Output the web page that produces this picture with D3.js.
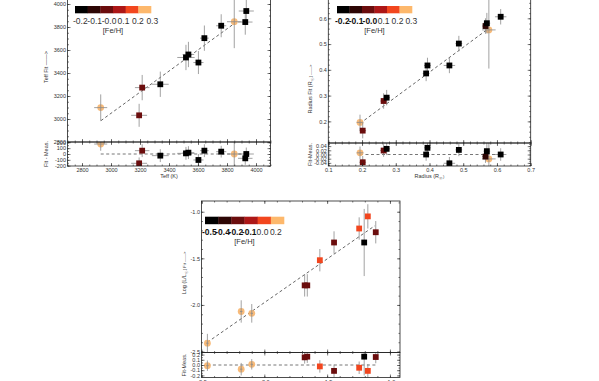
<!DOCTYPE html>
<html>
<head>
<meta charset="utf-8">
<script src="https://cdn.jsdelivr.net/npm/d3@7"></script>
<style>
  body { margin: 0; background: #fff; }
  svg { display: block; font-family: "Liberation Sans", Arial, sans-serif; }
</style>
</head>
<body>
<svg id="chart" width="599" height="381"></svg>
<script>
// colour bar shared by the three panels
const barColors = ["#000000", "#2d0605", "#6b0d0d", "#ad1717", "#f2461e", "#fdb86c"]

// --- Teff panel ---
const teffFeh = [-0.2, -0.1, 0.0, 0.1, 0.2, 0.3]
const teffFehLabels = ["-0.2", "-0.1", "-0.0", "0.1", "0.2", "0.3"]
const teffMeas = [2929, 3194, 3215, 3340, 3517, 3534, 3603, 3644, 3760, 3850, 3926, 3933]
const teffFit = [3099, 3032, 3273, 3302, 3535, 3561, 3491, 3703, 3811, 3846, 3843, 3939]
const teffRes = [170, -159, 57, -28, 11, 23, -102, 57, 40, 0, -74, 0]
const teffMeasErr = [45, 55, 50, 58, 60, 40, 35, 30, 35, 50, 50, 52]
const teffFitErr = [115, 100, 110, 110, 110, 110, 100, 110, 100, 230, 110, 110]
const teffStar = [0.3, 0.0, 0.0, -0.2, -0.2, -0.2, -0.2, -0.2, -0.2, 0.3, -0.2, -0.2]
const teffLineX = [2930, 3850]
const teffLineY = [2985, 3830]
const teffXTicks = [2800, 3000, 3200, 3400, 3600, 3800, 4000]
const teffXLabels = ["2800", "3000", "3200", "3400", "3600", "3800", "4000"]
const teffYTicks = [2800, 3000, 3200, 3400, 3600, 3800, 4000, 4200]
const teffYLabels = ["2800", "3000", "3200", "3400", "3600", "3800", "4000", "4200"]
const teffRTicks = [-200, -100, 0, 100, 200]
const teffRLabels = ["-200", "-100", "0", "100", "200"]

// --- Radius panel ---
const radFeh = [-0.2, -0.1, 0.0, 0.1, 0.2, 0.3]
const radFehLabels = ["-0.2", "-0.1", "-0.0", "0.1", "0.2", "0.3"]
const radMeas = [0.194, 0.202, 0.264, 0.273, 0.390, 0.394, 0.459, 0.487, 0.566, 0.570, 0.576, 0.611]
const radFit = [0.196, 0.164, 0.279, 0.292, 0.386, 0.417, 0.417, 0.502, 0.570, 0.581, 0.555, 0.606]
const radRes = [0.008, -0.037, 0.019, 0.027, 0.0, 0.032, -0.042, 0.022, -0.010, 0.016, -0.021, 0.0]
const radMeasErr = [0.01, 0.01, 0.01, 0.01, 0.01, 0.01, 0.017, 0.01, 0.01, 0.01, 0.02, 0.017]
const radFitErr = [0.03, 0.03, 0.03, 0.03, 0.03, 0.03, 0.03, 0.03, 0.03, 0.04, 0.15, 0.03]
const radStar = [0.3, 0.0, 0.0, -0.2, -0.2, -0.2, -0.2, -0.2, -0.1, -0.2, 0.3, -0.2]
const radLineX = [0.194, 0.576]
const radLineY = [0.192, 0.561]
const radXTicks = [0.1, 0.2, 0.3, 0.4, 0.5, 0.6, 0.7]
const radXLabels = ["0.1", "0.2", "0.3", "0.4", "0.5", "0.6", "0.7"]
const radYTicks = [0.2, 0.3, 0.4, 0.5, 0.6, 0.7]
const radYLabels = ["0.2", "0.3", "0.4", "0.5", "0.6", "0.7"]
const radRTicks = [-0.04, -0.02, 0, 0.02, 0.04]
const radRLabels = ["-0.04", "-0.02", "0.00", "0.02", "0.04"]

// --- Luminosity panel ---
const lumFeh = [-0.5, -0.4, -0.2, -0.1, 0.0, 0.2]
const lumFehLabels = ["-0.5", "-0.4", "-0.2", "-0.1", "0.0", "0.2"]
const lumMeas = [-2.453, -2.184, -2.10, -1.679, -1.658, -1.558, -1.445, -1.245, -1.205, -1.176, -1.113]
const lumFit = [-2.41, -2.07, -2.09, -1.79, -1.79, -1.52, -1.33, -1.18, -1.33, -1.05, -1.22]
const lumRes = [-0.013, -0.08, 0.013, 0.147, 0.16, -0.027, -0.113, -0.053, 0.16, -0.113, 0.153]
const lumMeasErr = [0.01, 0.01, 0.01, 0.01, 0.01, 0.01, 0.01, 0.01, 0.01, 0.01, 0.01]
const lumFitErr = [0.1, 0.12, 0.1, 0.12, 0.12, 0.12, 0.12, 0.12, 0.36, 0.13, 0.12]
const lumStar = [0.2, 0.2, 0.2, -0.2, -0.2, 0.0, -0.2, 0.0, -0.5, 0.0, -0.2]
const lumLineX = [-2.453, -1.12]
const lumLineY = [-2.40, -1.15]
const lumXTicks = [-2.5, -2.0, -1.5, -1.0]
const lumXLabels = ["-2.5", "-2.0", "-1.5", "-1.0"]
const lumYTicks = [-2.5, -2.0, -1.5, -1.0]
const lumYLabels = ["-2.5", "-2.0", "-1.5", "-1.0"]
const lumRTicks = [-0.2, -0.1, 0, 0.1, 0.2]
const lumRLabels = ["-0.2", "-0.1", "0.0", "0.1", "0.2"]

const svg = d3.select("#chart")
const defs = svg.append("defs")

function tickSet(g, side, scale, vals, len, labels, pos) {
  let axis = {left: d3.axisLeft, right: d3.axisRight, top: d3.axisTop, bottom: d3.axisBottom}[side]
  let vertical = side === "left" || side === "right"
  g.append("g")
    .attr("transform", vertical ? "translate(" + pos + ",0)" : "translate(0," + pos + ")")
    .call(axis(scale).tickValues(vals).tickSize(-len).tickPadding(vertical ? 1.5 : 2.5)
      .tickFormat(labels ? (d, i) => labels[i] : () => ""))
    .call(a => a.select(".domain").remove())
    .call(a => a.selectAll("line").attr("stroke", "#222").attr("stroke-width", 0.6))
    .call(a => a.selectAll("text").attr("font-size", 5.5).attr("fill", "#333")
      .attr("font-family", "Liberation Sans, Arial, sans-serif"))
}

function minorVals(domain, step) {
  let lo = Math.min(domain[0], domain[1]), hi = Math.max(domain[0], domain[1])
  return d3.range(Math.ceil(lo / step - 1e-6) * step, hi + 1e-9, step)
}

function drawPanel(c) {
  let g = svg.append("g")
  let x = d3.scaleLinear(c.xDomain, [c.left, c.right])
  let y = d3.scaleLinear(c.yDomain, [c.mid, c.top])
  let yr = d3.scaleLinear(c.rDomain, [c.bottom, c.mid])
  let color = d3.scaleThreshold(d3.pairs(c.feh, (a, b) => (a + b) / 2), barColors)
  let w = c.right - c.left

  defs.append("clipPath").attr("id", c.id + "m")
    .append("rect").attr("x", c.left).attr("y", c.top).attr("width", w).attr("height", c.mid - c.top)
  defs.append("clipPath").attr("id", c.id + "r")
    .append("rect").attr("x", c.left).attr("y", c.mid).attr("width", w).attr("height", c.bottom - c.mid)

  let pts = c.meas.map((m, i) => ({
    m: m, f: c.fit[i], r: c.res[i], ex: c.mErr[i], ey: c.fErr[i], col: color(c.star[i])
  }))
  let isLight = d => d.col === barColors[barColors.length - 1]

  // main panel
  let main = g.append("g").attr("clip-path", "url(#" + c.id + "m)")
  main.append("path")
    .attr("d", d3.line()(c.lineX.map((v, i) => [x(v), y(c.lineY[i])])))
    .attr("stroke", "#666").attr("stroke-width", 1).attr("stroke-dasharray", "3,2.5").attr("fill", "none")
  drawMarks(main, pts, x, y, "f", isLight)

  // residual panel
  let res = g.append("g").attr("clip-path", "url(#" + c.id + "r)")
  let ext = d3.extent(c.meas)
  res.append("line")
    .attr("x1", x(ext[0])).attr("x2", x(ext[1])).attr("y1", yr(0)).attr("y2", yr(0))
    .attr("stroke", "#777").attr("stroke-width", 1).attr("stroke-dasharray", "3,2.5")
  drawMarks(res, pts, x, yr, "r", isLight)

  // frames
  g.append("rect").attr("x", c.left).attr("y", c.top).attr("width", w).attr("height", c.mid - c.top)
    .attr("fill", "none").attr("stroke", "#222").attr("stroke-width", 0.8)
  g.append("rect").attr("x", c.left).attr("y", c.mid).attr("width", w).attr("height", c.bottom - c.mid)
    .attr("fill", "none").attr("stroke", "#222").attr("stroke-width", 0.8)

  // ticks, main (labels only where they fall inside the picture)
  let xm = minorVals(c.xDomain, c.xMinor)
  let ym = minorVals(c.yDomain, c.yMinor)
  let rm = minorVals(c.rDomain, c.rMinor)
  let shown = c.yTicks.map((v, i) => i).filter(i => y(c.yTicks[i]) <= c.mid + 0.5 && y(c.yTicks[i]) >= 3)
  tickSet(g, "left", y, shown.map(i => c.yTicks[i]), 3, shown.map(i => c.yLabels[i]), c.left)
  tickSet(g, "left", y, ym, 1.5, null, c.left)
  tickSet(g, "right", y, c.yTicks, 3, null, c.right)
  tickSet(g, "right", y, ym, 1.5, null, c.right)
  tickSet(g, "top", x, c.xTicks, 3, null, c.top)
  tickSet(g, "top", x, xm, 1.5, null, c.top)
  tickSet(g, "bottom", x, c.xTicks, 3, null, c.mid)
  tickSet(g, "bottom", x, xm, 1.5, null, c.mid)

  // ticks, residual
  tickSet(g, "left", yr, c.rTicks, 3, c.rLabels, c.left)
  tickSet(g, "left", yr, rm, 1.5, null, c.left)
  tickSet(g, "right", yr, c.rTicks, 3, null, c.right)
  tickSet(g, "right", yr, rm, 1.5, null, c.right)
  tickSet(g, "top", x, c.xTicks, 3, null, c.mid)
  tickSet(g, "top", x, xm, 1.5, null, c.mid)
  tickSet(g, "bottom", x, c.xTicks, 3, c.xLabels, c.bottom)
  tickSet(g, "bottom", x, xm, 1.5, null, c.bottom)

  // axis titles
  let yt = g.append("text").attr("transform", "translate(" + c.yTitleX + "," + c.yTitleY + ") rotate(-90)")
    .attr("text-anchor", "middle").attr("font-size", 5.5).attr("fill", "#333")
  c.yTitle.forEach(p => yt.append("tspan").text(p[0]).attr("font-size", p[1] ? 4 : null)
    .attr("dy", p[1] === "sub" ? 1.5 : p[1] === "up" ? -1.5 : null))
  g.append("text").attr("transform", "translate(" + c.yTitleX + "," + ((c.mid + c.bottom) / 2) + ") rotate(-90)")
    .attr("text-anchor", "middle").attr("font-size", 5.5).attr("fill", "#333").text(c.rTitle)
  if (c.xTitle) {
    let xt = g.append("text").attr("x", (c.left + c.right) / 2).attr("y", c.bottom + 12)
      .attr("text-anchor", "middle").attr("font-size", 5.5).attr("fill", "#333")
    c.xTitle.forEach(p => xt.append("tspan").text(p[0]).attr("font-size", p[1] ? 4 : null)
      .attr("dy", p[1] === "sub" ? 1.5 : p[1] === "up" ? -1.5 : null))
  }

  // colour bar
  let cb = g.append("g")
  let segW = c.cbW / barColors.length
  cb.selectAll("rect").data(barColors).join("rect")
    .attr("x", (d, i) => c.cbX + i * segW).attr("y", c.cbY)
    .attr("width", segW + 0.3).attr("height", c.cbH).attr("fill", d => d)
  cb.selectAll("text.lab").data(c.fehLabels).join("text").attr("class", "lab")
    .attr("x", (d, i) => c.cbX + c.cbLab0 + i * c.cbLabStep)
    .attr("y", c.cbY + c.cbH + 10.5)
    .attr("text-anchor", "middle").attr("font-size", 8.5)
    .attr("font-weight", (d, i) => i < c.cbBold ? "bold" : "normal")
    .attr("fill", (d, i) => i < c.cbBold ? "#111" : "#333")
    .text(d => d)
  cb.append("text").attr("x", c.cbX + c.cbW / 2).attr("y", c.cbY + c.cbH + 19.5)
    .attr("text-anchor", "middle").attr("font-size", 7.5).attr("fill", "#333").text("[Fe/H]")
}

function drawMarks(g, pts, x, y, key, isLight) {
  g.selectAll("circle").data(pts.filter(isLight)).join("circle")
    .attr("cx", d => x(d.m)).attr("cy", d => y(d[key])).attr("r", 3.4)
    .attr("fill", "#f7b46c").attr("opacity", 0.9)
  let bars = g.append("g").attr("stroke", "#8a8a8a").attr("stroke-width", 0.8)
  bars.selectAll("line.v").data(pts).join("line").attr("class", "v")
    .attr("x1", d => x(d.m)).attr("x2", d => x(d.m))
    .attr("y1", d => y(d[key] - d.ey)).attr("y2", d => y(d[key] + d.ey))
  bars.selectAll("line.h").data(pts).join("line").attr("class", "h")
    .attr("x1", d => x(d.m - d.ex)).attr("x2", d => x(d.m + d.ex))
    .attr("y1", d => y(d[key])).attr("y2", d => y(d[key]))
  g.selectAll("rect").data(pts.filter(d => !isLight(d))).join("rect")
    .attr("x", d => x(d.m) - 2.9).attr("y", d => y(d[key]) - 2.9)
    .attr("width", 5.8).attr("height", 5.8).attr("fill", d => d.col)
}

drawPanel({
  id: "teff", left: 67.5, right: 270.5, top: -19, mid: 142, bottom: 166,
  xDomain: [2700, 4100], yDomain: [2800, 4200], rDomain: [-205, 205],
  xTicks: teffXTicks, xLabels: teffXLabels, yTicks: teffYTicks, yLabels: teffYLabels,
  rTicks: teffRTicks, rLabels: teffRLabels, xMinor: 50, yMinor: 50, rMinor: 50,
  meas: teffMeas, fit: teffFit, res: teffRes, mErr: teffMeasErr, fErr: teffFitErr, star: teffStar,
  lineX: teffLineX, lineY: teffLineY, feh: teffFeh, fehLabels: teffFehLabels,
  yTitle: [["Teff Fit \u2014\u2014>"]], rTitle: "Fit - Meas.", xTitle: [["Teff (K)"]],
  yTitleX: 48, yTitleY: 67,
  cbX: 75, cbY: 6, cbW: 76, cbH: 7.3, cbLab0: 5.3, cbLabStep: 14.4, cbBold: 0
})

drawPanel({
  id: "rad", left: 328.3, right: 530.7, top: -7.45, mid: 143, bottom: 166,
  xDomain: [0.1, 0.7], yDomain: [0.116, 0.7], rDomain: [-0.055, 0.055],
  xTicks: radXTicks, xLabels: radXLabels, yTicks: radYTicks, yLabels: radYLabels,
  rTicks: radRTicks, rLabels: radRLabels, xMinor: 0.02, yMinor: 0.02, rMinor: 0.01,
  meas: radMeas, fit: radFit, res: radRes, mErr: radMeasErr, fErr: radFitErr, star: radStar,
  lineX: radLineX, lineY: radLineY, feh: radFeh, fehLabels: radFehLabels,
  yTitle: [["Radius Fit (R"], ["\u2609", "sub"], [") \u2014\u2014>", "up"]], rTitle: "Fit-Meas.",
  xTitle: [["Radius (R"], ["\u2609", "sub"], [")", "up"]],
  yTitleX: 312, yTitleY: 89,
  cbX: 337, cbY: 6, cbW: 75, cbH: 7.3, cbLab0: 5.3, cbLabStep: 13.8, cbBold: 3
})

drawPanel({
  id: "lum", left: 201.5, right: 400, top: 201, mid: 352.5, bottom: 377.5,
  xDomain: [-2.5, -0.92], yDomain: [-2.51, -0.885], rDomain: [-0.24, 0.24],
  xTicks: lumXTicks, xLabels: lumXLabels, yTicks: lumYTicks, yLabels: lumYLabels,
  rTicks: lumRTicks, rLabels: lumRLabels, xMinor: 0.1, yMinor: 0.1, rMinor: 0.05,
  meas: lumMeas, fit: lumFit, res: lumRes, mErr: lumMeasErr, fErr: lumFitErr, star: lumStar,
  lineX: lumLineX, lineY: lumLineY, feh: lumFeh, fehLabels: lumFehLabels,
  yTitle: [["Log (L/L"], ["\u2609", "sub"], [") Fit \u2014\u2014>", "up"]], rTitle: "Fit-Meas.", xTitle: null,
  yTitleX: 186, yTitleY: 273,
  cbX: 205, cbY: 216.7, cbW: 79, cbH: 7.5, cbLab0: 4.3, cbLabStep: 13.3, cbBold: 4
})
</script>
</body>
</html>
